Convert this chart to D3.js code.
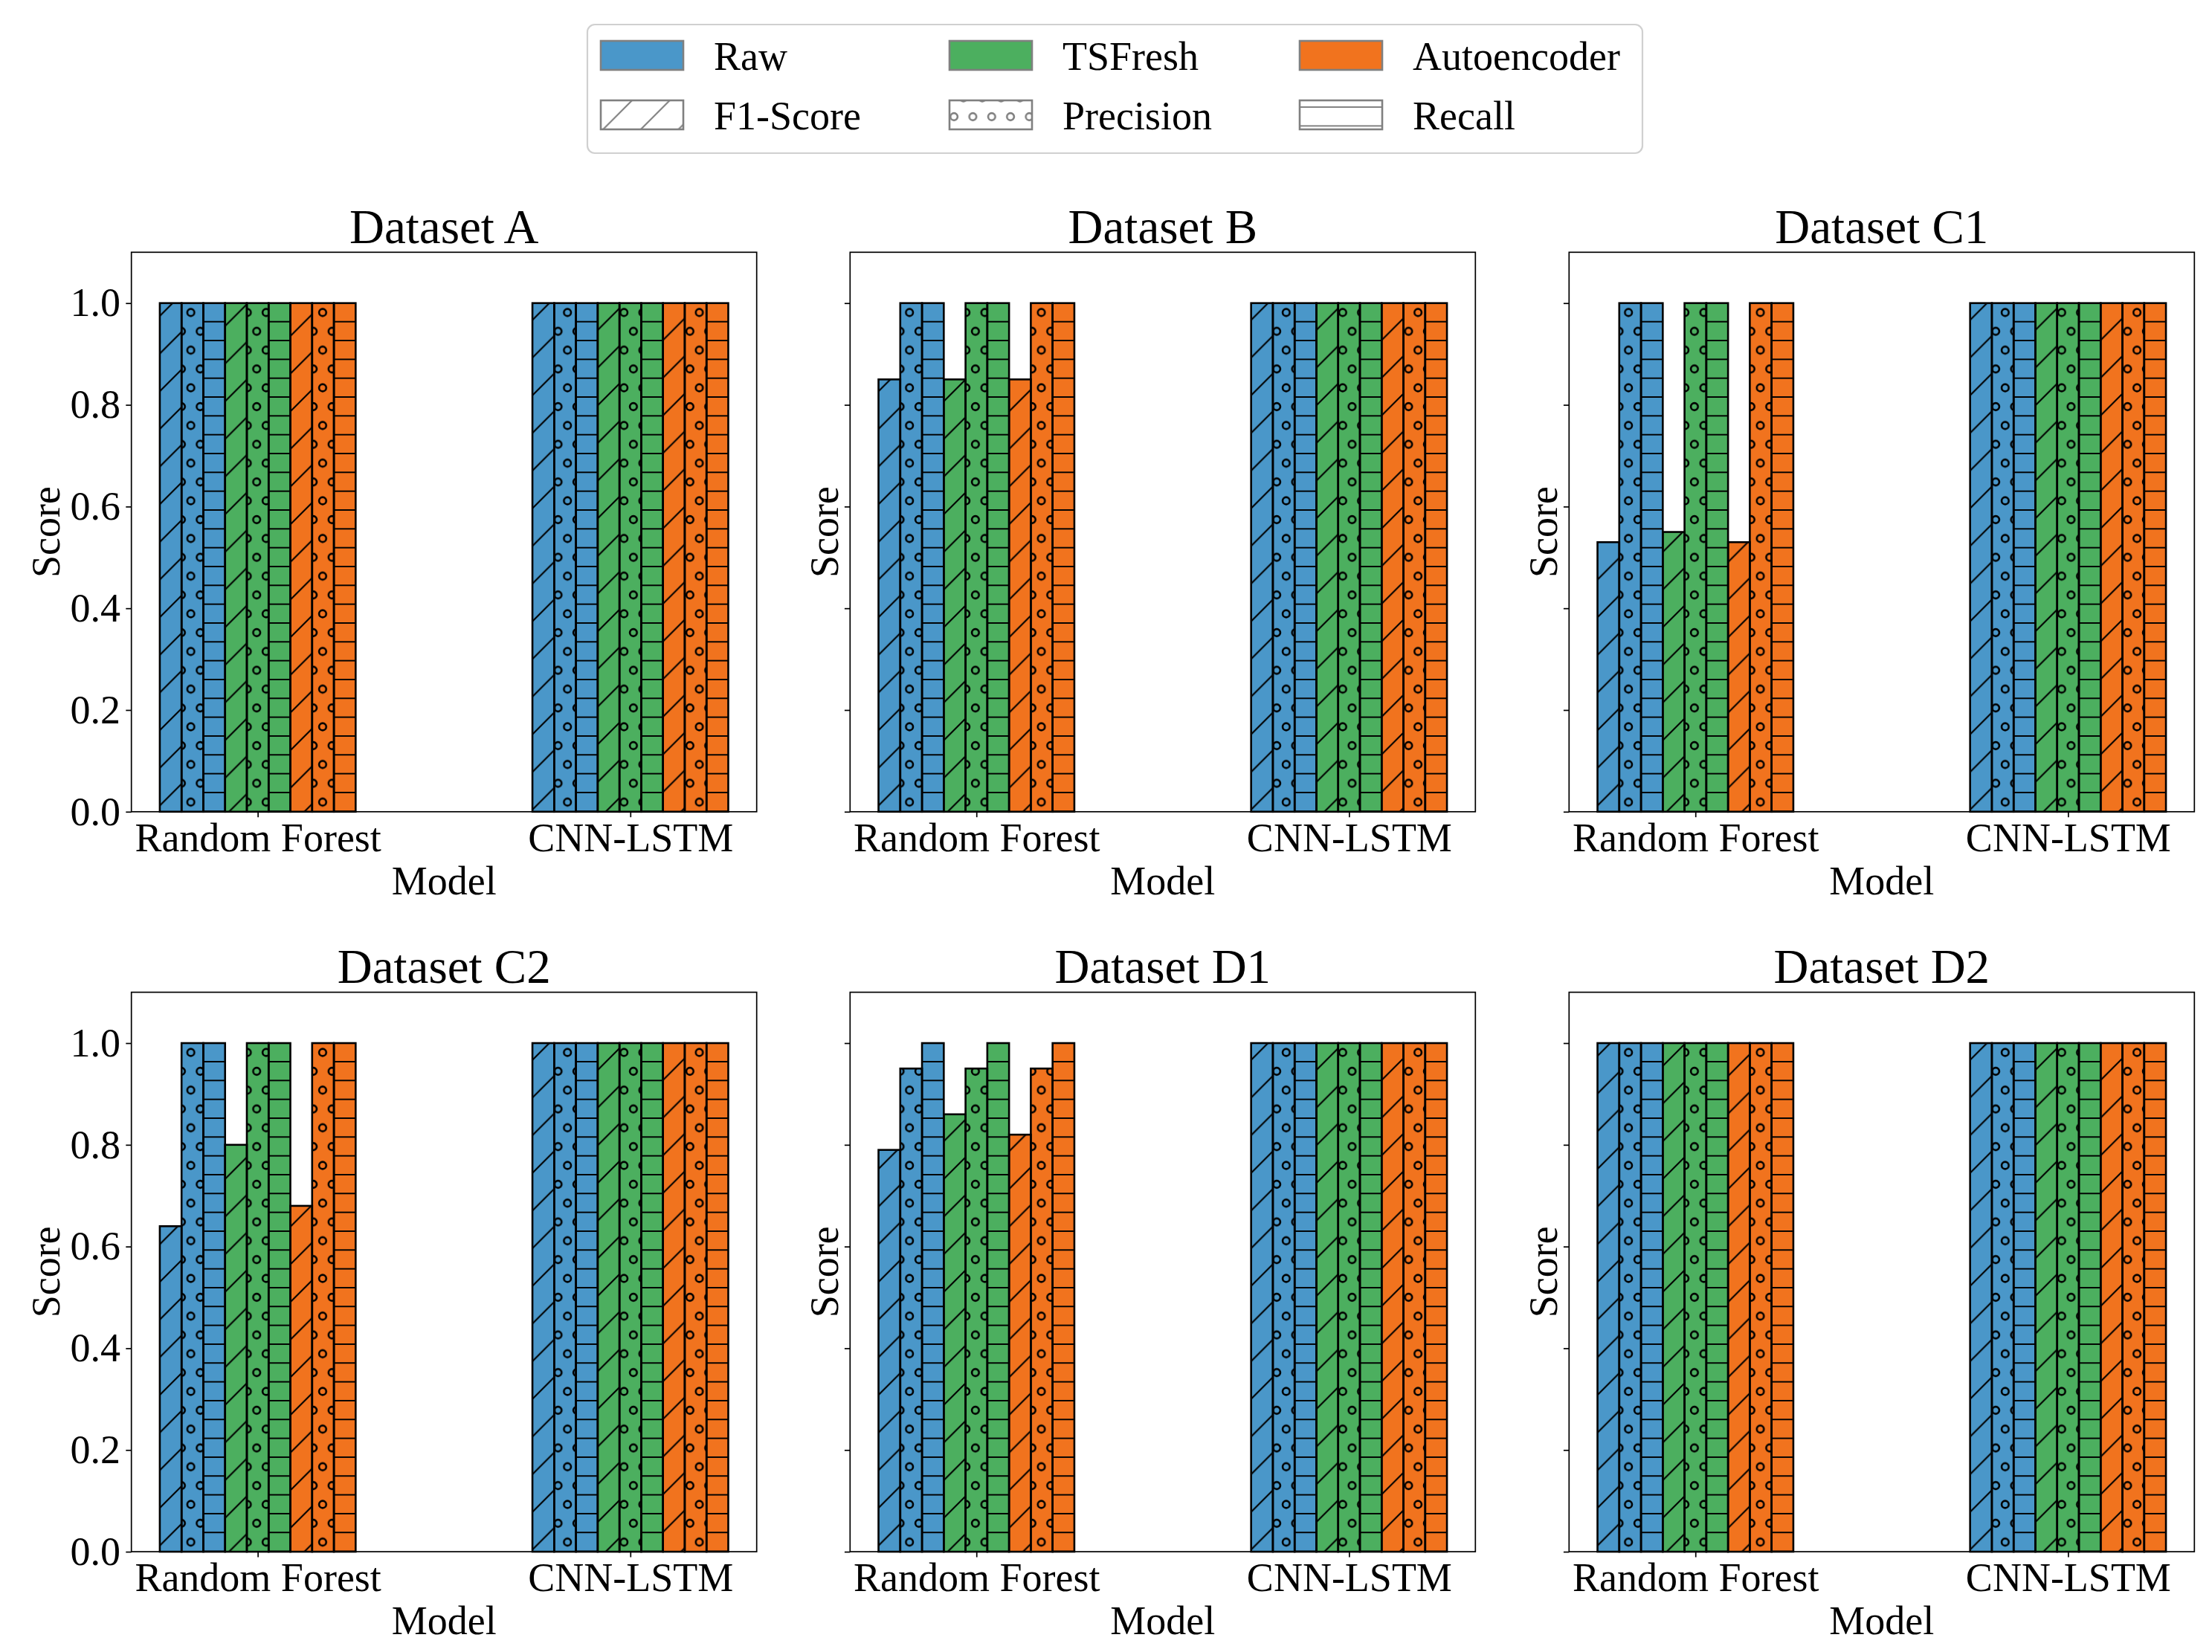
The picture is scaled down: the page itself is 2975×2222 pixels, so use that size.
<!DOCTYPE html>
<html>
<head>
<meta charset="UTF-8">
<title>Scores by model and dataset</title>
<script src="https://cdn.jsdelivr.net/npm/d3@7"></script>
<style>
  body { margin: 0; background: #fff; }
  svg { display: block; }
  text { font-family: "Liberation Serif", "DejaVu Serif", serif; fill: #000; }
</style>
</head>
<body>
<div id="chart"></div>
<script>
// ---- data ----
const datasets = ["Dataset A", "Dataset B", "Dataset C1", "Dataset C2", "Dataset D1", "Dataset D2"];
const models = ["Random Forest", "CNN-LSTM"];
const features = ["Raw", "TSFresh", "Autoencoder"];
const metrics = ["F1-Score", "Precision", "Recall"];
const yTicks = [0, 0.2, 0.4, 0.6, 0.8, 1.0];

// one row per dataset, values for [Raw, TSFresh, Autoencoder]
const rfF1 = [
  [1.0, 1.0, 1.0],
  [0.85, 0.85, 0.85],
  [0.53, 0.55, 0.53],
  [0.64, 0.80, 0.68],
  [0.79, 0.86, 0.82],
  [1.0, 1.0, 1.0]
];
const rfPrecision = [
  [1.0, 1.0, 1.0],
  [1.0, 1.0, 1.0],
  [1.0, 1.0, 1.0],
  [1.0, 1.0, 1.0],
  [0.95, 0.95, 0.95],
  [1.0, 1.0, 1.0]
];
const rfRecall = [
  [1.0, 1.0, 1.0],
  [1.0, 1.0, 1.0],
  [1.0, 1.0, 1.0],
  [1.0, 1.0, 1.0],
  [1.0, 1.0, 1.0],
  [1.0, 1.0, 1.0]
];
const cnnF1 = [
  [1.0, 1.0, 1.0],
  [1.0, 1.0, 1.0],
  [1.0, 1.0, 1.0],
  [1.0, 1.0, 1.0],
  [1.0, 1.0, 1.0],
  [1.0, 1.0, 1.0]
];
const cnnPrecision = [
  [1.0, 1.0, 1.0],
  [1.0, 1.0, 1.0],
  [1.0, 1.0, 1.0],
  [1.0, 1.0, 1.0],
  [1.0, 1.0, 1.0],
  [1.0, 1.0, 1.0]
];
const cnnRecall = [
  [1.0, 1.0, 1.0],
  [1.0, 1.0, 1.0],
  [1.0, 1.0, 1.0],
  [1.0, 1.0, 1.0],
  [1.0, 1.0, 1.0],
  [1.0, 1.0, 1.0]
];

// ---- look ----
const featureColors = ["#4a97c9", "#4caf5f", "#f1731e"];
const metricHatch = ["slash", "circles", "hline"];

const W = 2975, H = 2222;
const plotLefts = [176.7, 1143.3, 2110.3];
const plotTops = [339.3, 1334.6];
const plotW = 841, plotH = 752.5;
const barW = 0.0584;
const fs = 54;

const svg = d3.select("#chart").append("svg")
  .attr("width", W).attr("height", H)
  .attr("viewBox", `0 0 ${W} ${H}`);
svg.append("rect").attr("width", W).attr("height", H).attr("fill", "#fff");

// hatch patterns, anchored to the figure so they line up like matplotlib's
const defs = svg.append("defs");
const hs = 25.33; // spacing of hatch lines
function makePatterns(suffix, color, lw) {
  const s = 2 * hs;
  const p1 = defs.append("pattern").attr("id", "slash" + suffix)
    .attr("patternUnits", "userSpaceOnUse")
    .attr("x", 22.6).attr("y", 0).attr("width", s).attr("height", s);
  p1.append("path")
    .attr("d", `M0,${s}L${s},0M-6,6L6,-6M${s - 6},${s + 6}L${s + 6},${s - 6}`)
    .attr("stroke", color).attr("stroke-width", lw).attr("fill", "none");

  const p2 = defs.append("pattern").attr("id", "hline" + suffix)
    .attr("patternUnits", "userSpaceOnUse")
    .attr("x", 0).attr("y", 17.4).attr("width", 100).attr("height", hs);
  p2.append("path")
    .attr("d", `M0,0H100M0,${hs}H100`)
    .attr("stroke", color).attr("stroke-width", lw).attr("fill", "none");

  const p3 = defs.append("pattern").attr("id", "circles" + suffix)
    .attr("patternUnits", "userSpaceOnUse")
    .attr("x", 16.6).attr("y", 5.0).attr("width", hs).attr("height", s);
  [[0, 0], [hs, 0], [0, s], [hs, s], [hs / 2, hs]].forEach(c => {
    p3.append("circle").attr("cx", c[0]).attr("cy", c[1]).attr("r", 4.8)
      .attr("fill", "none").attr("stroke", color).attr("stroke-width", lw + 0.5);
  });
}
makePatterns("", "#000", 2.1);
makePatterns("G", "#808080", 2.1);

// ---- panels ----
datasets.forEach((name, di) => {
  const col = di % 3, row = Math.floor(di / 3);
  const left = plotLefts[col], top = plotTops[row];

  const lo = -4.5 * barW, hi = 1 + 4.5 * barW, pad = 0.05 * (hi - lo);
  const x = d3.scaleLinear().domain([lo - pad, hi + pad]).range([0, plotW]);
  const y = d3.scaleLinear().domain([0, 1.1]).range([plotH, 0]);

  const g = svg.append("g").attr("transform", `translate(${left},${top})`);

  const bars = [];
  models.forEach((m, mi) => {
    const src = mi === 0 ? [rfF1, rfPrecision, rfRecall] : [cnnF1, cnnPrecision, cnnRecall];
    features.forEach((f, fi) => {
      metrics.forEach((k, ki) => {
        const slot = fi * 3 + ki;
        bars.push({ pos: mi + (slot - 4) * barW, value: src[ki][di][fi], fi, ki });
      });
    });
  });

  const bg = g.append("g");
  bg.selectAll("rect.fill").data(bars).enter().append("rect")
    .attr("class", "fill")
    .attr("x", d => x(d.pos - barW / 2))
    .attr("width", d => x(d.pos + barW / 2) - x(d.pos - barW / 2))
    .attr("y", d => y(d.value))
    .attr("height", d => y(0) - y(d.value))
    .attr("fill", d => featureColors[d.fi]);
  // hatch + edge, drawn in absolute coords so the pattern phase is shared
  bg.selectAll("rect.hatch").data(bars).enter().append("rect")
    .attr("class", "hatch")
    .attr("x", d => x(d.pos - barW / 2))
    .attr("width", d => x(d.pos + barW / 2) - x(d.pos - barW / 2))
    .attr("y", d => y(d.value))
    .attr("height", d => y(0) - y(d.value))
    .attr("fill", d => `url(#${metricHatch[d.ki]})`)
    .attr("stroke", "#000").attr("stroke-width", 2.6);

  // axes
  const showY = col === 0;
  const yAxis = d3.axisLeft(y).tickValues(yTicks)
    .tickFormat(showY ? d3.format(".1f") : () => "")
    .tickSize(7.4).tickPadding(7.4).tickSizeOuter(0);
  const ya = g.append("g").call(yAxis);
  const xAxis = d3.axisBottom(x).tickValues([0, 1])
    .tickFormat((d, i) => models[i])
    .tickSize(7.4).tickPadding(7.4).tickSizeOuter(0);
  const xa = g.append("g").attr("transform", `translate(0,${plotH})`).call(xAxis);
  [ya, xa].forEach(a => {
    a.select(".domain").remove();
    a.selectAll(".tick line").attr("stroke", "#000").attr("stroke-width", 1.7);
    a.selectAll(".tick text")
      .style("font-family", '"Liberation Serif", serif')
      .style("font-size", fs + "px").attr("fill", "#000");
  });

  // frame
  g.append("rect").attr("width", plotW).attr("height", plotH)
    .attr("fill", "none").attr("stroke", "#000").attr("stroke-width", 1.7);

  // title and labels
  g.append("text").attr("x", plotW / 2).attr("y", -12.7)
    .attr("text-anchor", "middle").style("font-size", "65px").text(name);
  g.append("text").attr("x", plotW / 2).attr("y", plotH + 111)
    .attr("text-anchor", "middle").style("font-size", fs + "px").text("Model");
  const lx = showY ? -97 : -16;
  g.append("text")
    .attr("transform", `translate(${lx},${plotH / 2}) rotate(-90)`)
    .attr("text-anchor", "middle").style("font-size", fs + "px").text("Score");
});

// ---- legend ----
const leg = svg.append("g");
leg.append("rect").attr("x", 790).attr("y", 33).attr("width", 1419).attr("height", 173)
  .attr("rx", 10).attr("ry", 10)
  .attr("fill", "#fff").attr("fill-opacity", 0.8)
  .attr("stroke", "#d0d0d0").attr("stroke-width", 2.2);

const legItems = [];
features.forEach((f, i) => legItems.push({ label: f, col: i, row: 0, fill: featureColors[i] }));
metrics.forEach((m, i) => legItems.push({ label: m, col: i, row: 1, fill: `url(#${metricHatch[i]}G)` }));

const colX = [808, 1277, 1748];
const rowY = [55, 135];
const li = leg.selectAll("g.item").data(legItems).enter().append("g").attr("class", "item");
li.filter(d => d.row === 1).append("rect")
  .attr("x", d => colX[d.col]).attr("y", d => rowY[d.row])
  .attr("width", 111).attr("height", 39).attr("fill", "#fff");
li.append("rect")
  .attr("x", d => colX[d.col]).attr("y", d => rowY[d.row])
  .attr("width", 111).attr("height", 39)
  .attr("fill", d => d.fill)
  .attr("stroke", "#808080").attr("stroke-width", 2.6);
li.append("text")
  .attr("x", d => colX[d.col] + 152).attr("y", d => rowY[d.row] + 39)
  .style("font-size", fs + "px").text(d => d.label);
</script>
</body>
</html>
